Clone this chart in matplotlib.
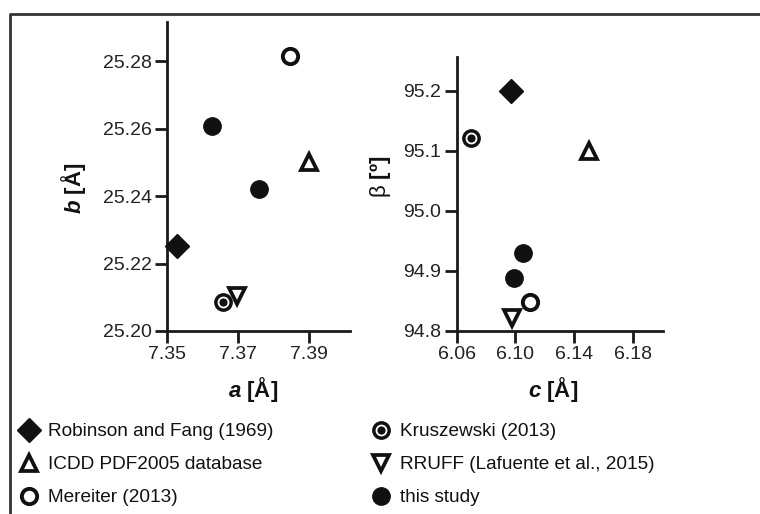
import matplotlib
matplotlib.use("Agg")
import matplotlib.pyplot as plt
from matplotlib.lines import Line2D

plt.rcParams['font.family'] = ['Liberation Sans', 'DejaVu Sans']
plt.rcParams['mathtext.fontset'] = 'custom'
plt.rcParams['mathtext.rm'] = 'Liberation Sans'
plt.rcParams['mathtext.it'] = 'Liberation Sans:italic'
plt.rcParams['mathtext.bf'] = 'Liberation Sans:bold'
plt.rcParams['mathtext.bfit'] = 'Liberation Sans:italic:bold'

# ---- data ----
series = ["Robinson and Fang (1969)", "ICDD PDF2005 database", "Mereiter (2013)",
          "Kruszewski (2013)", "RRUFF (Lafuente et al., 2015)", "this study"]
robinson_a, robinson_b, robinson_c, robinson_beta = [7.3528], [25.2252], [6.0968], [95.200]
icdd_a, icdd_b, icdd_c, icdd_beta = [7.390], [25.250], [6.150], [95.100]
mereiter_a, mereiter_b, mereiter_c, mereiter_beta = [7.3846], [25.2815], [6.110], [94.848]
krusz_a, krusz_b, krusz_c, krusz_beta = [7.3659], [25.2087], [6.0695], [95.121]
rruff_a, rruff_b, rruff_c, rruff_beta = [7.3698], [25.2104], [6.0979], [94.821]
study_a, study_b, study_c, study_beta = [7.3627, 7.3760], [25.2607, 25.2420], [6.1050, 6.0988], [94.930, 94.889]

a_ticks = [7.35, 7.37, 7.39]
b_ticks = [25.20, 25.22, 25.24, 25.26, 25.28]
c_ticks = [6.06, 6.10, 6.14, 6.18]
beta_ticks = [94.8, 94.9, 95.0, 95.1, 95.2]

W, H = 760, 514
fig = plt.figure(figsize=(W / 100, H / 100), dpi=100)

def ax_rect(x0, x1, ytop, ybot):
    return [x0 / W, 1 - ybot / H, (x1 - x0) / W, (ybot - ytop) / H]

ax1 = fig.add_axes(ax_rect(167, 350, 22, 331))
ax2 = fig.add_axes(ax_rect(456.7, 663.3, 56.7, 331))

K = '#111111'
lw_sp = 2.0

def style(ax):
    for s in ['top', 'right']:
        ax.spines[s].set_visible(False)
    for s in ['left', 'bottom']:
        ax.spines[s].set_linewidth(lw_sp)
        ax.spines[s].set_color('#1a1a1a')
    ax.tick_params(direction='out', length=8.5, width=lw_sp, color='#1a1a1a',
                   labelsize=14, labelcolor='#222222', pad=2.5)

def draw(ax, xs):
    (ra, rb), (ia, ib), (ma, mb), (ka, kb), (qa, qb), (sa, sb) = xs
    hs = []
    hs.append(ax.plot(ra, rb, 'D', ms=12, color=K, clip_on=False, zorder=3)[0])
    hs.append(ax.plot(ia, ib, '^', ms=12, mfc='white', mec=K, mew=2.7, clip_on=False, zorder=3)[0])
    hs.append(ax.plot(ma, mb, 'o', ms=11, mfc='white', mec=K, mew=2.8, clip_on=False, zorder=3)[0])
    k1 = ax.plot(ka, kb, 'o', ms=12.5, color=K, clip_on=False, zorder=3)[0]
    k2 = ax.plot(ka, kb, 'o', ms=7.2, mfc=K, mec='white', mew=1.3, clip_on=False, zorder=3)[0]
    hs.append((k1, k2))
    hs.append(ax.plot(qa, qb, 'v', ms=12, mfc='white', mec=K, mew=2.7, clip_on=False, zorder=4)[0])
    hs.append(ax.plot(sa, sb, 'o', ms=12.5, color=K, clip_on=False, zorder=3)[0])
    return hs

style(ax1)
style(ax2)
handles = draw(ax1, [(robinson_a, robinson_b), (icdd_a, icdd_b), (mereiter_a, mereiter_b),
                     (krusz_a, krusz_b), (rruff_a, rruff_b), (study_a, study_b)])
draw(ax2, [(robinson_c, robinson_beta), (icdd_c, icdd_beta), (mereiter_c, mereiter_beta),
           (krusz_c, krusz_beta), (rruff_c, rruff_beta), (study_c, study_beta)])

ax1.set_xlim(7.35, 7.4015)
ax1.set_ylim(25.20, 25.2916)
ax1.set_xticks(a_ticks)
ax1.set_xticklabels([f"{v:.2f}" for v in a_ticks])
ax1.set_yticks(b_ticks)
ax1.set_yticklabels([f"{v:.2f}" for v in b_ticks])

ax2.set_xlim(6.06, 6.2008)
ax2.set_ylim(94.8, 95.257)
ax2.set_xticks(c_ticks)
ax2.set_xticklabels([f"{v:.2f}" for v in c_ticks])
ax2.set_yticks(beta_ticks)
ax2.set_yticklabels([f"{v:.1f}" for v in beta_ticks])

lab_kw = dict(fontsize=16, fontweight='bold', color='#111111')
ax1.set_ylabel(r'$\mathbfit{b}$ [Å]', **lab_kw)
ax1.yaxis.set_label_coords(-0.432, 0.463)
ax1.set_xlabel(r'$\mathbfit{a}$ [Å]', **lab_kw)
ax1.xaxis.set_label_coords(0.47, -0.142)

ax2.set_ylabel(r'$\mathrm{β}$ [º]', **lab_kw)
ax2.yaxis.set_label_coords(-0.308, 0.5625)
ax2.set_xlabel(r'$\mathbfit{c}$ [Å]', **lab_kw)
ax2.xaxis.set_label_coords(0.466, -0.160)

# outer frame (cropped)
fig.add_artist(Line2D([10 / W, 10 / W, 1.0], [0.0, 1 - 14 / H, 1 - 14 / H],
                      transform=fig.transFigure, color='#333333', lw=2.0))

leg_kw = dict(frameon=False, loc='upper left', fontsize=13.7, handlelength=1.0,
              handletextpad=0.5, labelspacing=0.82, borderpad=0, borderaxespad=0,
              numpoints=1, labelcolor='#111111')
leg1 = fig.legend(handles[:3], series[:3], bbox_to_anchor=(19.5 / W, 1 - 423 / H), **leg_kw)
leg2 = fig.legend(handles[3:], series[3:], bbox_to_anchor=(371.5 / W, 1 - 423 / H), **leg_kw)

fig.savefig("out.png", dpi=100)
